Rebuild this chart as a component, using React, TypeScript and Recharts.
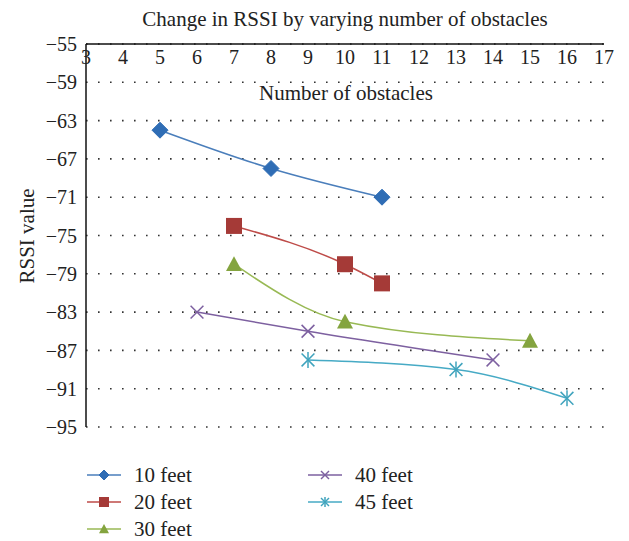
import React from "react";
import { LineChart, Line, XAxis, YAxis, CartesianGrid } from "recharts";

const xTicks = [3, 4, 5, 6, 7, 8, 9, 10, 11, 12, 13, 14, 15, 16, 17];
const yTicks = [-55, -59, -63, -67, -71, -75, -79, -83, -87, -91, -95];

const seriesNames = ["10 feet", "20 feet", "30 feet", "40 feet", "45 feet"];
const obstacles10 = [5, 8, 11];
const rssi10 = [-64, -68, -71];
const obstacles20 = [7, 10, 11];
const rssi20 = [-74, -78, -80];
const obstacles30 = [7, 10, 15];
const rssi30 = [-78, -84, -86];
const obstacles40 = [6, 9, 14];
const rssi40 = [-83, -85, -88];
const obstacles45 = [9, 13, 16];
const rssi45 = [-88, -89, -92];

const lineColors = ["#4A7EBB", "#BE4B48", "#98B954", "#7D60A0", "#46AAC5"];
const markColors = ["#2F6DB5", "#A53A37", "#84A43F", "#7D60A0", "#3FA3BD"];
const shapes = ["diamond", "square", "triangle", "x", "star"];

const build = (xs: number[], ys: number[]) => xs.map((x, i) => ({ x, y: ys[i] }));
const seriesData = [
  build(obstacles10, rssi10),
  build(obstacles20, rssi20),
  build(obstacles30, rssi30),
  build(obstacles40, rssi40),
  build(obstacles45, rssi45),
];

const FONT = "Liberation Serif";

function Marker({ shape, cx, cy, color, s }: { shape: string; cx: number; cy: number; color: string; s: number }) {
  const h = s / 2;
  if (shape === "diamond") {
    return <polygon points={`${cx},${cy - h} ${cx + h},${cy} ${cx},${cy + h} ${cx - h},${cy}`} fill={color} stroke={color} strokeWidth={1} />;
  }
  if (shape === "square") {
    return <rect x={cx - h} y={cy - h} width={s} height={s} fill={color} />;
  }
  if (shape === "triangle") {
    return <polygon points={`${cx},${cy - h} ${cx + h},${cy + h * 0.85} ${cx - h},${cy + h * 0.85}`} fill={color} />;
  }
  if (shape === "x") {
    const d = h * 0.8;
    return (
      <g stroke={color} strokeWidth={1.5}>
        <line x1={cx - d} y1={cy - d} x2={cx + d} y2={cy + d} />
        <line x1={cx - d} y1={cy + d} x2={cx + d} y2={cy - d} />
      </g>
    );
  }
  const d = h * 0.8;
  return (
    <g stroke={color} strokeWidth={1.5}>
      <line x1={cx - d} y1={cy - d} x2={cx + d} y2={cy + d} />
      <line x1={cx - d} y1={cy + d} x2={cx + d} y2={cy - d} />
      <line x1={cx} y1={cy - h} x2={cx} y2={cy + h} />
    </g>
  );
}

const makeDot = (i: number) => (props: any) => {
  const { cx, cy, index } = props;
  if (cx == null || cy == null) return <g key={index} />;
  return (
    <g key={`d-${i}-${index}`}>
      <Marker shape={shapes[i]} cx={cx} cy={cy} color={markColors[i]} s={16} />
    </g>
  );
};

const TopTick = (props: any) => {
  const { x, payload } = props;
  return (
    <text x={x} y={64} textAnchor="middle" fontFamily={FONT} fontSize={20} fill="#222">
      {payload.value}
    </text>
  );
};

const fmtY = (v: number) => String(v).replace("-", "\u2212");

const legendPos = [
  { x: 87, y: 475 },
  { x: 87, y: 502 },
  { x: 87, y: 529 },
  { x: 308, y: 475 },
  { x: 308, y: 502 },
];

export default function App() {
  return (
    <div style={{ position: "absolute", left: 0, top: 0, width: 629, height: 541, background: "#fff", fontFamily: FONT }}>
      <LineChart
        width={629}
        height={541}
        margin={{ top: 14, right: 25, bottom: 114, left: 0 }}
      >
        <CartesianGrid
          horizontal={true}
          vertical={false}
          stroke="#333"
          strokeWidth={1.6}
          strokeDasharray="1.6 10.4"
        />
        <XAxis
          type="number"
          dataKey="x"
          orientation="top"
          domain={[3, 17]}
          ticks={xTicks}
          allowDataOverflow
          height={30}
          tickLine={false}
          axisLine={{ stroke: "#111", strokeWidth: 1.5 }}
          tick={<TopTick />}
          interval={0}
        />
        <YAxis
          type="number"
          domain={[-95, -55]}
          ticks={yTicks}
          width={86}
          tickLine={false}
          tickSize={0}
          tickMargin={9}
          interval={0}
          axisLine={{ stroke: "#111", strokeWidth: 1.5 }}
          tickFormatter={fmtY}
          tick={{ fontFamily: FONT, fontSize: 20, fill: "#222" }}
        />
        {seriesData.map((d, i) => (
          <Line
            key={seriesNames[i]}
            data={d}
            dataKey="y"
            name={seriesNames[i]}
            type="monotone"
            stroke={lineColors[i]}
            strokeWidth={1.5}
            dot={makeDot(i)}
            activeDot={false}
            isAnimationActive={false}
          />
        ))}
      </LineChart>
      <svg width={629} height={541} style={{ position: "absolute", left: 0, top: 0, pointerEvents: "none" }}>
        <text x={345} y={26} textAnchor="middle" fontFamily={FONT} fontSize={21} fill="#222">
          Change in RSSI by varying number of obstacles
        </text>
        <text x={346} y={100} textAnchor="middle" fontFamily={FONT} fontSize={21} fill="#222">
          Number of obstacles
        </text>
        <text
          x={0}
          y={0}
          transform="translate(34,236) rotate(-90)"
          textAnchor="middle"
          fontFamily={FONT}
          fontSize={21}
          fill="#222"
        >
          RSSI value
        </text>
        {seriesNames.map((n, i) => {
          const p = legendPos[i];
          return (
            <g key={n}>
              <line x1={p.x} y1={p.y} x2={p.x + 34} y2={p.y} stroke={lineColors[i]} strokeWidth={1.5} />
              <Marker shape={shapes[i]} cx={p.x + 17} cy={p.y} color={markColors[i]} s={10} />
              <text x={p.x + 47} y={p.y + 7} fontFamily={FONT} fontSize={21} fill="#222">
                {n}
              </text>
            </g>
          );
        })}
      </svg>
    </div>
  );
}
